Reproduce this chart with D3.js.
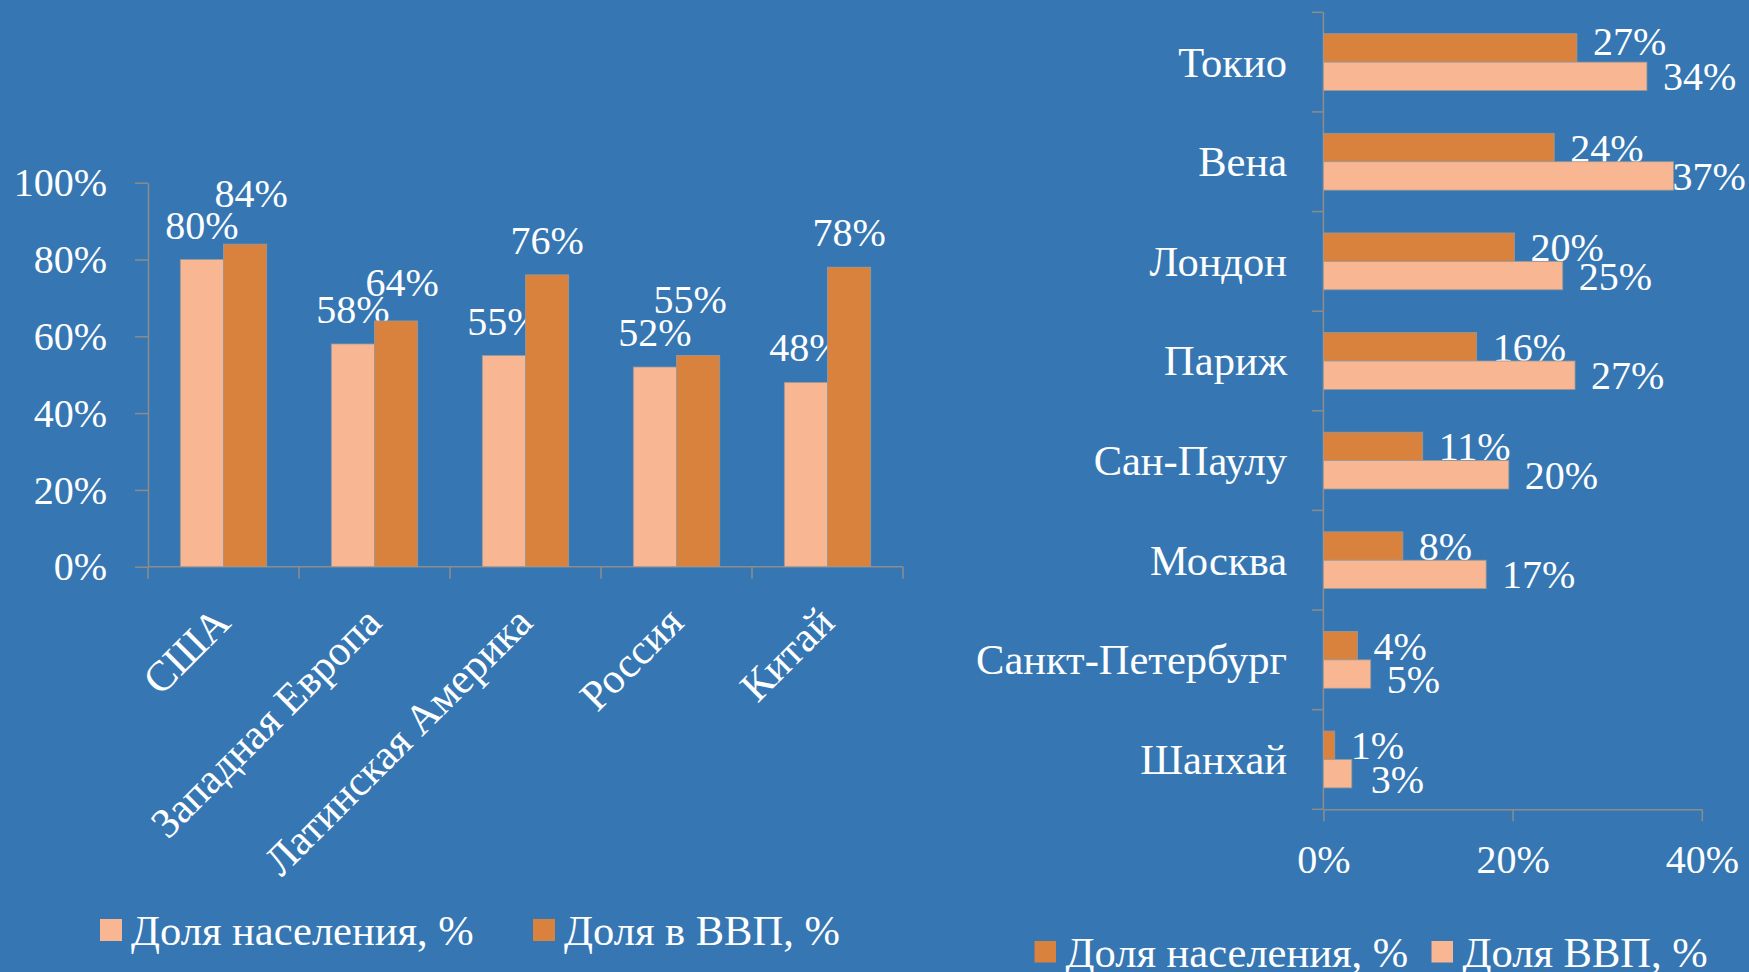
<!DOCTYPE html>
<html>
<head>
<meta charset="utf-8">
<script src="https://cdn.jsdelivr.net/npm/d3@7"></script>
<style>
  html, body { margin: 0; padding: 0; background: #3677b3; }
  svg { display: block; }
  text { font-family: "Liberation Serif", "Times New Roman", serif; fill: #ffffff; }
</style>
</head>
<body>
<svg id="chart" width="1749" height="972"></svg>
<script>
// ---------- Data: left chart (regions) ----------
const regions = ["США", "Западная Европа", "Латинская Америка", "Россия", "Китай"];
const regionPopShare = [0.80, 0.58, 0.55, 0.52, 0.48];   // Доля населения, %
const regionGdpShare = [0.84, 0.64, 0.76, 0.55, 0.78];   // Доля в ВВП, %
const leftTicks = [0, 0.2, 0.4, 0.6, 0.8, 1.0];
const leftSeriesNames = ["Доля населения, %", "Доля в ВВП, %"];

// ---------- Data: right chart (cities) ----------
const cities = ["Токио", "Вена", "Лондон", "Париж", "Сан-Паулу", "Москва", "Санкт-Петербург", "Шанхай"];
const cityPopShare = [0.268, 0.244, 0.202, 0.162, 0.105, 0.084, 0.036, 0.012]; // Доля населения, %
const cityGdpShare = [0.342, 0.370, 0.253, 0.266, 0.196, 0.172, 0.050, 0.030]; // Доля ВВП, %
const rightTicks = [0, 0.2, 0.4];
const rightSeriesNames = ["Доля населения, %", "Доля ВВП, %"];

// ---------- Style ----------
const COL_LIGHT = "#f8b692";
const COL_DARK = "#d9823e";
const AXIS_COL = "#8c8c8c";
const FONT = 40;      // numbers
const FONT_TXT = 42.5; // words
const pct = d3.format(".0%");

// manual label nudges (as in the original, labels moved to avoid overlap)
const leftGdpNudge = [[6, -16], [6, -4], [0, 0], [-8, -22], [0, 0]];
const leftPopNudge = [[0, 0], [0, 0], [0, 0], [0, 0], [0, 0]];
const rightPopNudge = [[0, -7], [0, 0], [0, 0], [0, 0], [0, 0], [0, 0], [0, 0], [0, 0]];
const rightGdpNudge = [[0, 0], [-17, 0], [0, 0], [0, 0], [0, 0], [0, 0], [0, 5], [3, 5]];

const svg = d3.select("#chart");

// ================= LEFT CHART =================
{
  const x0 = d3.scaleBand().domain(regions).range([148, 903]).paddingInner(0).paddingOuter(0);
  const x1 = d3.scaleBand().domain(["pop", "gdp"]).range([0, x0.bandwidth()]).paddingInner(0).paddingOuter(0.748);
  const y = d3.scaleLinear().domain([0, 1]).range([566.7, 182.7]);

  const g = svg.append("g");

  // y axis
  const yAxis = d3.axisLeft(y).tickValues(leftTicks).tickFormat(pct).tickSize(13).tickSizeOuter(0).tickPadding(28);
  const ya = g.append("g").attr("transform", `translate(${x0.range()[0]},0)`).call(yAxis);
  ya.selectAll("path, line").attr("stroke", AXIS_COL).attr("stroke-width", 1.5);
  ya.selectAll("text").attr("font-size", FONT).attr("font-family", "Liberation Serif").attr("fill", "#fff").attr("dy", "0.33em");

  // x axis baseline + category boundary ticks
  g.append("line").attr("x1", x0.range()[0]).attr("x2", x0.range()[1])
    .attr("y1", y(0)).attr("y2", y(0)).attr("stroke", AXIS_COL).attr("stroke-width", 1.5);
  const bounds = regions.map(r => x0(r)).concat([x0.range()[1]]);
  g.selectAll(".xtick").data(bounds).enter().append("line")
    .attr("x1", d => d).attr("x2", d => d).attr("y1", y(0)).attr("y2", y(0) + 12)
    .attr("stroke", AXIS_COL).attr("stroke-width", 1.5);

  // bars
  const rows = regions.map((r, i) => ({ r, i, pop: regionPopShare[i], gdp: regionGdpShare[i] }));
  rows.forEach(d => {
    [["pop", COL_LIGHT, d.pop, leftPopNudge[d.i]], ["gdp", COL_DARK, d.gdp, leftGdpNudge[d.i]]].forEach(([k, c, v, nd]) => {
      const bx = x0(d.r) + x1(k);
      g.append("rect").attr("x", bx).attr("y", y(v)).attr("width", x1.bandwidth()).attr("height", y(0) - y(v))
        .attr("fill", c).attr("stroke", "#999").attr("stroke-width", 0.8);
      g.append("text").attr("x", bx + x1.bandwidth() / 2 + nd[0]).attr("y", y(v) - 21 + nd[1])
        .attr("text-anchor", "middle").attr("font-size", FONT).text(pct(v));
    });
  });

  // rotated category labels
  g.selectAll(".cat").data(regions).enter().append("text")
    .attr("transform", d => `translate(${x0(d) + x0.bandwidth() / 2 + 9},${y(0) + 58}) rotate(-45)`)
    .attr("text-anchor", "end").attr("font-size", FONT_TXT).text(d => d);

  // legend
  const leg = [{ name: leftSeriesNames[0], c: COL_LIGHT, x: 100 }, { name: leftSeriesNames[1], c: COL_DARK, x: 533 }];
  leg.forEach(l => {
    g.append("rect").attr("x", l.x).attr("y", 919).attr("width", 22).attr("height", 22).attr("fill", l.c);
    g.append("text").attr("x", l.x + 31).attr("y", 945).attr("font-size", FONT_TXT).text(l.name);
  });
}

// ================= RIGHT CHART =================
{
  const y0 = d3.scaleBand().domain(cities).range([12.3, 809.3]).paddingInner(0).paddingOuter(0);
  const y1 = d3.scaleBand().domain(["pop", "gdp"]).range([0, y0.bandwidth()]).paddingInner(0).paddingOuter(0.754);
  const x = d3.scaleLinear().domain([0, 0.4]).range([1323.4, 1701.8]);

  const g = svg.append("g");

  // x axis
  const xAxis = d3.axisBottom(x).tickValues(rightTicks).tickFormat(pct).tickSize(12).tickSizeOuter(0).tickPadding(23);
  const xa = g.append("g").attr("transform", `translate(0,${y0.range()[1]})`).call(xAxis);
  xa.selectAll("path, line").attr("stroke", AXIS_COL).attr("stroke-width", 1.5);
  xa.selectAll("text").attr("font-size", FONT).attr("font-family", "Liberation Serif").attr("fill", "#fff");

  // y axis line + boundary ticks
  g.append("line").attr("x1", x(0)).attr("x2", x(0)).attr("y1", y0.range()[0]).attr("y2", y0.range()[1])
    .attr("stroke", AXIS_COL).attr("stroke-width", 1.5);
  const bounds = cities.map(c => y0(c)).concat([y0.range()[1]]);
  g.selectAll(".ytick").data(bounds).enter().append("line")
    .attr("x1", x(0) - 11.5).attr("x2", x(0)).attr("y1", d => d).attr("y2", d => d)
    .attr("stroke", AXIS_COL).attr("stroke-width", 1.5);

  // bars
  cities.forEach((c, i) => {
    [["pop", COL_DARK, cityPopShare[i], rightPopNudge[i]], ["gdp", COL_LIGHT, cityGdpShare[i], rightGdpNudge[i]]].forEach(([k, col, v, nd]) => {
      const by = y0(c) + y1(k);
      g.append("rect").attr("x", x(0)).attr("y", by).attr("width", x(v) - x(0)).attr("height", y1.bandwidth())
        .attr("fill", col).attr("stroke", "#999").attr("stroke-width", 0.8);
      g.append("text").attr("x", x(v) + 16 + nd[0]).attr("y", by + y1.bandwidth() / 2 + 14 + nd[1])
        .attr("font-size", FONT).text(pct(v));
    });
  });

  // category labels
  g.selectAll(".cat").data(cities).enter().append("text")
    .attr("x", 1287).attr("y", d => y0(d) + y0.bandwidth() / 2 + 14.5)
    .attr("text-anchor", "end").attr("font-size", FONT_TXT).text(d => d);

  // legend
  const leg = [{ name: rightSeriesNames[0], c: COL_DARK, x: 1034.5 }, { name: rightSeriesNames[1], c: COL_LIGHT, x: 1431.5 }];
  leg.forEach(l => {
    g.append("rect").attr("x", l.x).attr("y", 941).attr("width", 21.5).attr("height", 21.5).attr("fill", l.c);
    g.append("text").attr("x", l.x + 31).attr("y", 966.7).attr("font-size", FONT_TXT).text(l.name);
  });
}
</script>
</body>
</html>
